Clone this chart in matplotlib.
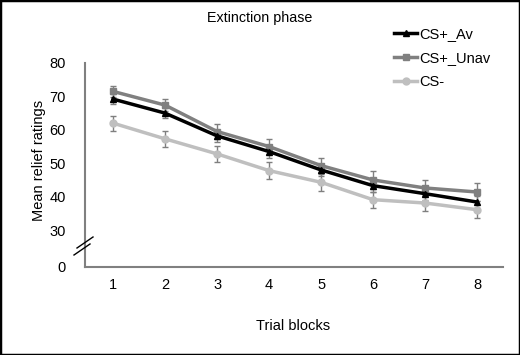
import matplotlib
matplotlib.use("Agg")
import matplotlib.pyplot as plt
from matplotlib.lines import Line2D
from matplotlib.patches import Rectangle

plt.rcParams['font.family'] = ['Liberation Sans', 'DejaVu Sans']

trials = [1, 2, 3, 4, 5, 6, 7, 8]
cs_av = [69.2, 65.0, 58.2, 53.5, 48.0, 43.3, 40.9, 38.4]
cs_av_err = [1.5, 1.6, 1.7, 1.8, 1.8, 1.9, 1.9, 1.8]
cs_unav = [71.5, 67.4, 59.5, 55.0, 49.3, 45.0, 42.6, 41.4]
cs_unav_err = [1.6, 1.7, 2.2, 2.3, 2.2, 2.6, 2.5, 2.6]
cs_minus = [62.0, 57.3, 52.8, 47.8, 44.3, 39.1, 38.1, 36.1]
cs_minus_err = [2.2, 2.3, 2.5, 2.6, 2.5, 2.4, 2.5, 2.5]
ytick_vals = [30, 40, 50, 60, 70, 80]
series_names = ['CS+_Av', 'CS+_Unav', 'CS-']

fig = plt.figure(figsize=(5.2, 3.55), dpi=100)
ax = fig.add_axes([85/520, (355-267)/355, (503-85)/520, (267-63)/355])

y0_pos = 30 - 37/3.35  # position where "0" label sits (axis break)

specs = [
    (cs_unav, cs_unav_err, '#808080', 's', 5),
    (cs_minus, cs_minus_err, '#bfbfbf', 'o', 5),
    (cs_av, cs_av_err, '#000000', '^', 5),
]
for vals, errs, col, mk, ms in specs:
    ax.errorbar(trials, vals, yerr=errs, color=col, marker=mk, markersize=ms,
                linewidth=2.5, ecolor='#7f7f7f', elinewidth=1, capsize=2.5,
                capthick=1, zorder=3)

ax.set_xlim(0.46, 8.5)
ax.set_ylim(y0_pos, 80)
ax.set_yticks([y0_pos] + ytick_vals)
ax.set_yticklabels(['0'] + [str(v) for v in ytick_vals])
ax.set_xticks(trials)
ax.tick_params(axis='both', length=0, labelsize=10.5, pad=8)
ax.tick_params(axis='y', pad=14)
for s in ['top', 'right']:
    ax.spines[s].set_visible(False)
for s in ['left', 'bottom']:
    ax.spines[s].set_color('#808080')
    ax.spines[s].set_linewidth(1.5)

fig.text(293/520, 1 - 326/355, 'Trial blocks', ha='center', va='center', fontsize=10.5)
fig.text(39/520, 1 - 160/355, 'Mean relief ratings', ha='center', va='center',
         rotation=90, fontsize=10.5)
fig.text(260/520, 1 - 18/355, 'Extinction phase', ha='center', va='center', fontsize=10.3)

# axis break marks
def figpt(x, y):
    return (x/520, 1 - y/355)
for (xa, ya, xb, yb) in [(77, 248, 93, 237), (74, 255, 90, 244)]:
    p1 = figpt(xa, ya); p2 = figpt(xb, yb)
    fig.add_artist(Line2D([p1[0], p2[0]], [p1[1], p2[1]], color='black', linewidth=1))

handles = [
    Line2D([], [], color='#000000', marker='^', markersize=5, linewidth=2.5),
    Line2D([], [], color='#808080', marker='s', markersize=5, linewidth=2.5),
    Line2D([], [], color='#bfbfbf', marker='o', markersize=5, linewidth=2.5),
]
fig.legend(handles, series_names, loc='upper left', bbox_to_anchor=(394/520, 1 - 27/355),
           frameon=False, fontsize=10.5, handlelength=1.6, handletextpad=0.1,
           labelspacing=0.7, borderaxespad=0, borderpad=0)

fig.add_artist(Rectangle((0, 0), 1, 1, transform=fig.transFigure, fill=False,
                         edgecolor='black', linewidth=2.5))

fig.savefig('out.png', dpi=100)
